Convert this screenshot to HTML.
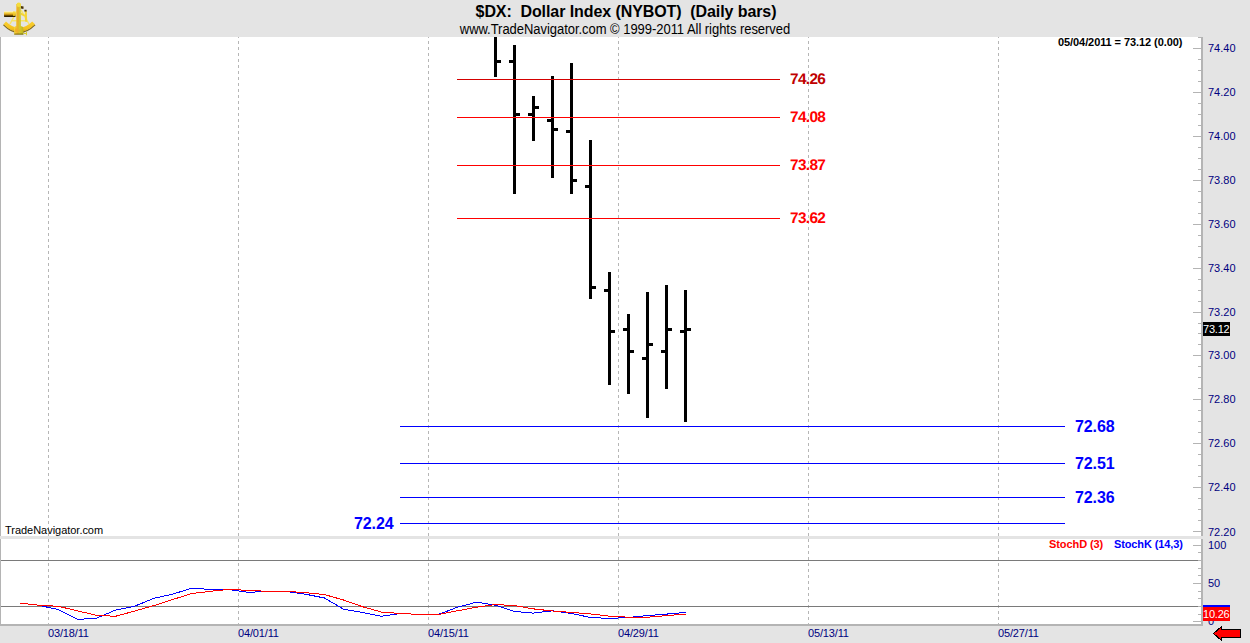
<!DOCTYPE html>
<html><head><meta charset="utf-8"><title>$DX: Dollar Index (NYBOT) (Daily bars)</title>
<style>
html,body{margin:0;padding:0}
body{width:1250px;height:643px;background:#e4e4e4;position:relative;overflow:hidden;font-family:"Liberation Sans",Arial,sans-serif}
#c{position:absolute;left:0;top:0;width:1250px;height:643px;overflow:hidden}
#c div,#c span,#c svg{position:absolute}
#c span{white-space:pre;line-height:1}
.vg{width:1px;background-image:linear-gradient(to bottom,#b6b6b6 0,#b6b6b6 3px,transparent 3px,transparent 6px);background-size:1px 6px;background-repeat:repeat-y}
.rl{font-weight:bold;font-size:15.4px;letter-spacing:-0.65px;text-rendering:geometricPrecision}
.bl{font-weight:bold;font-size:16px;letter-spacing:-0.1px;color:#0000ff}
.ax{left:1208px;font-size:11px;color:#000080}
.dt{top:628px;font-size:11px;letter-spacing:-0.15px;color:#000080}
.ttl{left:0;width:1250px;text-align:center}
</style></head><body><div id="c">
<div style="left:1px;top:37px;width:1200px;height:499px;background:#fff;"></div>
<div style="left:1px;top:539px;width:1200px;height:85px;background:#fff;"></div>
<div style="left:0px;top:37px;width:1px;height:589px;background:#b4b4b4;"></div>
<div style="left:1201px;top:37px;width:2px;height:589px;background:#b4b4b4;"></div>
<div style="left:0px;top:624px;width:1203px;height:2px;background:#b4b4b4;"></div>
<div style="left:0px;top:536px;width:1203px;height:3px;background:#e4e4e4;"></div>
<div style="left:1198px;top:37px;width:3px;height:1px;background:#b4b4b4;"></div>
<div class="vg" style="left:48px;top:37px;height:499px;background-position:0 -2px"></div>
<div class="vg" style="left:48px;top:539px;height:85px"></div>
<div class="vg" style="left:238px;top:37px;height:499px;background-position:0 -2px"></div>
<div class="vg" style="left:238px;top:539px;height:85px"></div>
<div class="vg" style="left:428px;top:37px;height:499px;background-position:0 -2px"></div>
<div class="vg" style="left:428px;top:539px;height:85px"></div>
<div class="vg" style="left:618px;top:37px;height:499px;background-position:0 -2px"></div>
<div class="vg" style="left:618px;top:539px;height:85px"></div>
<div class="vg" style="left:808px;top:37px;height:499px;background-position:0 -2px"></div>
<div class="vg" style="left:808px;top:539px;height:85px"></div>
<div class="vg" style="left:998px;top:37px;height:499px;background-position:0 -2px"></div>
<div class="vg" style="left:998px;top:539px;height:85px"></div>
<div style="left:1px;top:560px;width:1200px;height:1px;background:#7a7a7a;"></div>
<div style="left:1px;top:606px;width:1200px;height:1px;background:#7a7a7a;"></div>
<div style="left:1193px;top:48px;width:8px;height:1px;background:#b4b4b4;"></div>
<div style="left:1198px;top:59px;width:3px;height:1px;background:#b4b4b4;"></div>
<div style="left:1198px;top:70px;width:3px;height:1px;background:#b4b4b4;"></div>
<div style="left:1198px;top:81px;width:3px;height:1px;background:#b4b4b4;"></div>
<div style="left:1193px;top:92px;width:8px;height:1px;background:#b4b4b4;"></div>
<div style="left:1198px;top:103px;width:3px;height:1px;background:#b4b4b4;"></div>
<div style="left:1198px;top:114px;width:3px;height:1px;background:#b4b4b4;"></div>
<div style="left:1198px;top:125px;width:3px;height:1px;background:#b4b4b4;"></div>
<div style="left:1193px;top:136px;width:8px;height:1px;background:#b4b4b4;"></div>
<div style="left:1198px;top:147px;width:3px;height:1px;background:#b4b4b4;"></div>
<div style="left:1198px;top:158px;width:3px;height:1px;background:#b4b4b4;"></div>
<div style="left:1198px;top:169px;width:3px;height:1px;background:#b4b4b4;"></div>
<div style="left:1193px;top:180px;width:8px;height:1px;background:#b4b4b4;"></div>
<div style="left:1198px;top:191px;width:3px;height:1px;background:#b4b4b4;"></div>
<div style="left:1198px;top:202px;width:3px;height:1px;background:#b4b4b4;"></div>
<div style="left:1198px;top:213px;width:3px;height:1px;background:#b4b4b4;"></div>
<div style="left:1193px;top:224px;width:8px;height:1px;background:#b4b4b4;"></div>
<div style="left:1198px;top:235px;width:3px;height:1px;background:#b4b4b4;"></div>
<div style="left:1198px;top:246px;width:3px;height:1px;background:#b4b4b4;"></div>
<div style="left:1198px;top:257px;width:3px;height:1px;background:#b4b4b4;"></div>
<div style="left:1193px;top:268px;width:8px;height:1px;background:#b4b4b4;"></div>
<div style="left:1198px;top:279px;width:3px;height:1px;background:#b4b4b4;"></div>
<div style="left:1198px;top:290px;width:3px;height:1px;background:#b4b4b4;"></div>
<div style="left:1198px;top:301px;width:3px;height:1px;background:#b4b4b4;"></div>
<div style="left:1193px;top:312px;width:8px;height:1px;background:#b4b4b4;"></div>
<div style="left:1198px;top:323px;width:3px;height:1px;background:#b4b4b4;"></div>
<div style="left:1198px;top:333px;width:3px;height:1px;background:#b4b4b4;"></div>
<div style="left:1198px;top:344px;width:3px;height:1px;background:#b4b4b4;"></div>
<div style="left:1193px;top:355px;width:8px;height:1px;background:#b4b4b4;"></div>
<div style="left:1198px;top:366px;width:3px;height:1px;background:#b4b4b4;"></div>
<div style="left:1198px;top:377px;width:3px;height:1px;background:#b4b4b4;"></div>
<div style="left:1198px;top:388px;width:3px;height:1px;background:#b4b4b4;"></div>
<div style="left:1193px;top:399px;width:8px;height:1px;background:#b4b4b4;"></div>
<div style="left:1198px;top:410px;width:3px;height:1px;background:#b4b4b4;"></div>
<div style="left:1198px;top:421px;width:3px;height:1px;background:#b4b4b4;"></div>
<div style="left:1198px;top:432px;width:3px;height:1px;background:#b4b4b4;"></div>
<div style="left:1193px;top:443px;width:8px;height:1px;background:#b4b4b4;"></div>
<div style="left:1198px;top:454px;width:3px;height:1px;background:#b4b4b4;"></div>
<div style="left:1198px;top:465px;width:3px;height:1px;background:#b4b4b4;"></div>
<div style="left:1198px;top:476px;width:3px;height:1px;background:#b4b4b4;"></div>
<div style="left:1193px;top:487px;width:8px;height:1px;background:#b4b4b4;"></div>
<div style="left:1198px;top:498px;width:3px;height:1px;background:#b4b4b4;"></div>
<div style="left:1198px;top:509px;width:3px;height:1px;background:#b4b4b4;"></div>
<div style="left:1198px;top:520px;width:3px;height:1px;background:#b4b4b4;"></div>
<div style="left:1193px;top:531px;width:8px;height:1px;background:#b4b4b4;"></div>
<div style="left:1193px;top:545px;width:8px;height:1px;background:#b4b4b4;"></div>
<div style="left:1198px;top:552px;width:3px;height:1px;background:#b4b4b4;"></div>
<div style="left:1198px;top:560px;width:3px;height:1px;background:#b4b4b4;"></div>
<div style="left:1198px;top:568px;width:3px;height:1px;background:#b4b4b4;"></div>
<div style="left:1198px;top:575px;width:3px;height:1px;background:#b4b4b4;"></div>
<div style="left:1193px;top:583px;width:8px;height:1px;background:#b4b4b4;"></div>
<div style="left:1198px;top:591px;width:3px;height:1px;background:#b4b4b4;"></div>
<div style="left:1198px;top:598px;width:3px;height:1px;background:#b4b4b4;"></div>
<div style="left:1198px;top:606px;width:3px;height:1px;background:#b4b4b4;"></div>
<div style="left:1198px;top:614px;width:3px;height:1px;background:#b4b4b4;"></div>
<div style="left:1193px;top:621px;width:8px;height:1px;background:#b4b4b4;"></div>
<div style="left:494px;top:37px;width:3px;height:40px;background:#000;"></div>
<div style="left:497px;top:60px;width:4px;height:3px;background:#000;"></div>
<div style="left:513px;top:45px;width:3px;height:149px;background:#000;"></div>
<div style="left:509px;top:60px;width:4px;height:3px;background:#000;"></div>
<div style="left:516px;top:113px;width:4px;height:3px;background:#000;"></div>
<div style="left:532px;top:96px;width:3px;height:45px;background:#000;"></div>
<div style="left:528px;top:113px;width:4px;height:3px;background:#000;"></div>
<div style="left:535px;top:106px;width:4px;height:3px;background:#000;"></div>
<div style="left:551px;top:76px;width:3px;height:102px;background:#000;"></div>
<div style="left:547px;top:119px;width:4px;height:3px;background:#000;"></div>
<div style="left:554px;top:128px;width:4px;height:3px;background:#000;"></div>
<div style="left:570px;top:63px;width:3px;height:131px;background:#000;"></div>
<div style="left:566px;top:130px;width:4px;height:3px;background:#000;"></div>
<div style="left:573px;top:179px;width:4px;height:3px;background:#000;"></div>
<div style="left:589px;top:140px;width:3px;height:159px;background:#000;"></div>
<div style="left:585px;top:185px;width:4px;height:3px;background:#000;"></div>
<div style="left:592px;top:286px;width:4px;height:3px;background:#000;"></div>
<div style="left:608px;top:272px;width:3px;height:113px;background:#000;"></div>
<div style="left:604px;top:289px;width:4px;height:3px;background:#000;"></div>
<div style="left:611px;top:330px;width:4px;height:3px;background:#000;"></div>
<div style="left:627px;top:314px;width:3px;height:80px;background:#000;"></div>
<div style="left:623px;top:328px;width:4px;height:3px;background:#000;"></div>
<div style="left:630px;top:350px;width:4px;height:3px;background:#000;"></div>
<div style="left:646px;top:292px;width:3px;height:126px;background:#000;"></div>
<div style="left:642px;top:357px;width:4px;height:3px;background:#000;"></div>
<div style="left:649px;top:343px;width:4px;height:3px;background:#000;"></div>
<div style="left:665px;top:285px;width:3px;height:104px;background:#000;"></div>
<div style="left:661px;top:350px;width:4px;height:3px;background:#000;"></div>
<div style="left:668px;top:328px;width:4px;height:3px;background:#000;"></div>
<div style="left:684px;top:290px;width:3px;height:132px;background:#000;"></div>
<div style="left:680px;top:330px;width:4px;height:3px;background:#000;"></div>
<div style="left:687px;top:328px;width:4px;height:3px;background:#000;"></div>
<div style="left:457px;top:79px;width:323px;height:1px;background:#d40000;"></div>
<span class="rl" style="left:790px;top:72px;color:#c00000">74.26</span>
<div style="left:457px;top:117px;width:323px;height:1px;background:#ff0000;"></div>
<span class="rl" style="left:790px;top:110px;color:#ff0000">74.08</span>
<div style="left:457px;top:165px;width:323px;height:1px;background:#ff0000;"></div>
<span class="rl" style="left:790px;top:158px;color:#ff0000">73.87</span>
<div style="left:457px;top:218px;width:323px;height:1px;background:#ff0000;"></div>
<span class="rl" style="left:790px;top:211px;color:#ff0000">73.62</span>
<div style="left:400px;top:426px;width:665px;height:1px;background:#0000ff;"></div>
<span class="bl" style="left:1075px;top:419px">72.68</span>
<div style="left:400px;top:463px;width:665px;height:1px;background:#0000ff;"></div>
<span class="bl" style="left:1075px;top:456px">72.51</span>
<div style="left:400px;top:497px;width:665px;height:1px;background:#0000ff;"></div>
<span class="bl" style="left:1075px;top:490px">72.36</span>
<div style="left:400px;top:523px;width:665px;height:1px;background:#0000ff;"></div>
<span class="bl" style="left:354px;top:516px">72.24</span>
<svg width="1250" height="643" viewBox="0 0 1250 643" style="left:0;top:0" shape-rendering="crispEdges">
<polyline points="39.5,605.5 58.5,609.6 77.5,619.4 96.5,618.2 115.5,610.1 134.5,606.3 153.5,598.4 172.5,594.2 191.5,588.2 210.5,589.4 229.5,589.6 248.5,592.3 267.5,591.5 286.5,591.5 305.5,594.2 324.5,598 343.5,609.2 362.5,612.5 381.5,616.3 400.5,613.5 419.5,614.4 438.5,614.4 457.5,607.2 476.5,602.2 495.5,605.2 514.5,611.4 533.5,613.1 552.5,610.8 571.5,613.5 590.5,617.45 609.5,618.45 628.5,617.45 647.5,615.6 666.5,614.1 685.5,612.4" fill="none" stroke="#0000ff" stroke-width="1"/>
<polyline points="20.5,603.2 39.5,605.3 58.5,606.3 77.5,610.9 96.5,615.3 115.5,616.3 134.5,611.1 153.5,605.7 172.5,599.6 191.5,593.6 210.5,591.3 229.5,589.4 248.5,590.4 267.5,591.3 286.5,591.3 305.5,592.7 324.5,594.6 343.5,600 362.5,606.7 381.5,612.1 400.5,613.5 419.5,614.4 438.5,614.4 457.5,610.8 476.5,607.2 495.5,604.5 514.5,605.6 533.5,608.9 552.5,611 571.5,612.4 590.5,613.9 609.5,616.2 628.5,617.2 647.5,617.2 666.5,615.6 685.5,614.1" fill="none" stroke="#ff0000" stroke-width="1"/>
</svg>
<span class="ttl" style="top:4px;left:1px;font-size:16px;letter-spacing:-0.08px;font-weight:bold;color:#000">$DX:  Dollar Index (NYBOT)  (Daily bars)</span>
<span class="ttl" style="top:23px;font-size:13px;letter-spacing:-0.04px;color:#000;transform:scaleY(1.06);transform-origin:0 10.8px">www.TradeNavigator.com © 1999-2011 All rights reserved</span>
<span style="left:1058px;top:37px;font-size:11px;letter-spacing:-0.08px;font-weight:bold;color:#000">05/04/2011 = 73.12 (0.00)</span>
<span style="left:5px;top:525px;font-size:11px;letter-spacing:-0.03px;color:#000">TradeNavigator.com</span>
<span style="left:1049px;top:539px;font-size:11px;letter-spacing:-0.08px;font-weight:bold;color:#ff0000">StochD (3)</span>
<span style="left:1114px;top:539px;font-size:11px;letter-spacing:-0.12px;font-weight:bold;color:#0000ff">StochK (14,3)</span>
<span class="ax" style="top:43px">74.40</span><span class="ax" style="top:87px">74.20</span><span class="ax" style="top:131px">74.00</span><span class="ax" style="top:175px">73.80</span><span class="ax" style="top:219px">73.60</span><span class="ax" style="top:263px">73.40</span><span class="ax" style="top:307px">73.20</span><span class="ax" style="top:350px">73.00</span><span class="ax" style="top:394px">72.80</span><span class="ax" style="top:438px">72.60</span><span class="ax" style="top:482px">72.40</span><span class="ax" style="top:527px">72.20</span><span class="ax" style="top:540px">100</span><span class="ax" style="top:578px">50</span><span class="ax" style="top:616px">0</span>
<span class="dt" style="left:48px">03/18/11</span><span class="dt" style="left:238px">04/01/11</span><span class="dt" style="left:428px">04/15/11</span><span class="dt" style="left:618px">04/29/11</span><span class="dt" style="left:808px">05/13/11</span><span class="dt" style="left:998px">05/27/11</span>
<div style="left:1203px;top:322px;width:27px;height:14px;background:#000"></div>
<span style="left:1203px;top:324px;font-size:11px;letter-spacing:-0.2px;color:#fff">73.12</span>
<div style="left:1203px;top:605px;width:27px;height:2px;background:#0000ff"></div>
<div style="left:1203px;top:607px;width:27px;height:14px;background:#ff0000"></div>
<span style="left:1203px;top:609px;font-size:11px;letter-spacing:-0.2px;color:#fff">10.26</span>
<svg width="32" height="18" viewBox="0 0 32 18" style="left:1211px;top:625px"><path d="M2.5,8.5 L10.5,1.5 L10.5,4.5 L29.5,4.5 L29.5,12.5 L10.5,12.5 L10.5,15.5 Z" fill="#ff0000" stroke="#000" stroke-width="1" shape-rendering="crispEdges"/></svg>
<svg width="40" height="37" viewBox="0 0 40 37" style="left:0;top:0">
<defs>
<linearGradient id="tg" x1="0" y1="0" x2="0" y2="1"><stop offset="0" stop-color="#f4f8ff"/><stop offset="0.25" stop-color="#fbe060"/><stop offset="0.55" stop-color="#e0a818"/><stop offset="0.8" stop-color="#5a4000"/><stop offset="1" stop-color="#1a1000"/></linearGradient>
<linearGradient id="ag" x1="0" y1="0" x2="0" y2="1"><stop offset="0" stop-color="#fad030"/><stop offset="0.7" stop-color="#f4c01c"/><stop offset="1" stop-color="#c89810"/></linearGradient>
<linearGradient id="vg2" x1="0" y1="0" x2="1" y2="0"><stop offset="0" stop-color="#f8d838"/><stop offset="0.4" stop-color="#e8b028"/><stop offset="0.6" stop-color="#d4cc2c"/><stop offset="1" stop-color="#c0b420"/></linearGradient>
</defs>
<path d="M17,11 L10,24 M21,10 L29,24 M11.5,20.8 L27,20.8" stroke="#f6e468" stroke-width="1.5" fill="none"/>
<path d="M3.5,24.8 Q19,40.4 35,24.8" stroke="#6a5408" stroke-width="1.3" fill="none" opacity="0.85"/>
<path d="M3.5,24.3 Q19,39.8 35,24.3 L32.2,21.6 Q19,34.4 6,21.6 Z" fill="url(#ag)"/>
<rect x="4" y="10.9" width="11.6" height="6" rx="0.6" fill="url(#tg)"/>
<rect x="13" y="11.4" width="2.6" height="4.6" fill="#f4d030" opacity="0.75"/>
<path d="M24.8,10.8 L26.8,11 L27.2,22 L25,21.4 Z M21,12.5 L25,15 L24.4,16.6 L21,15 Z" fill="#f4d436"/>
<path d="M20.7,6 L23.6,6.6 L23.4,9 L20.9,8.6 Z M24.4,9.8 h2.2 v1.6 h-2.2 Z" fill="#4a3408"/>
<path d="M16.3,4 L20.7,4 L20.9,26 L23.2,27 L23.4,34.4 L14.2,34.4 L14.2,27 L16.2,26 Z" fill="url(#vg2)"/>
<circle cx="18.8" cy="4.8" r="2.2" fill="#f4dc3c"/>
<path d="M15,28.5 h2.4 v3.4 h-2.4 Z M19,29.5 h1.6 v2 h-1.6 Z M17.4,8 h1 v14 h-1 Z" fill="#f0a828" opacity="0.75"/>
<rect x="14.2" y="33.6" width="9.2" height="1" fill="#5a5008" opacity="0.8"/>
<path d="M23.4,33 h2.6 v-1.2 h1 v3.4 h-1 v-1.2 h-2.6 Z" fill="#d8cc30"/>
</svg>
</div></body></html>
